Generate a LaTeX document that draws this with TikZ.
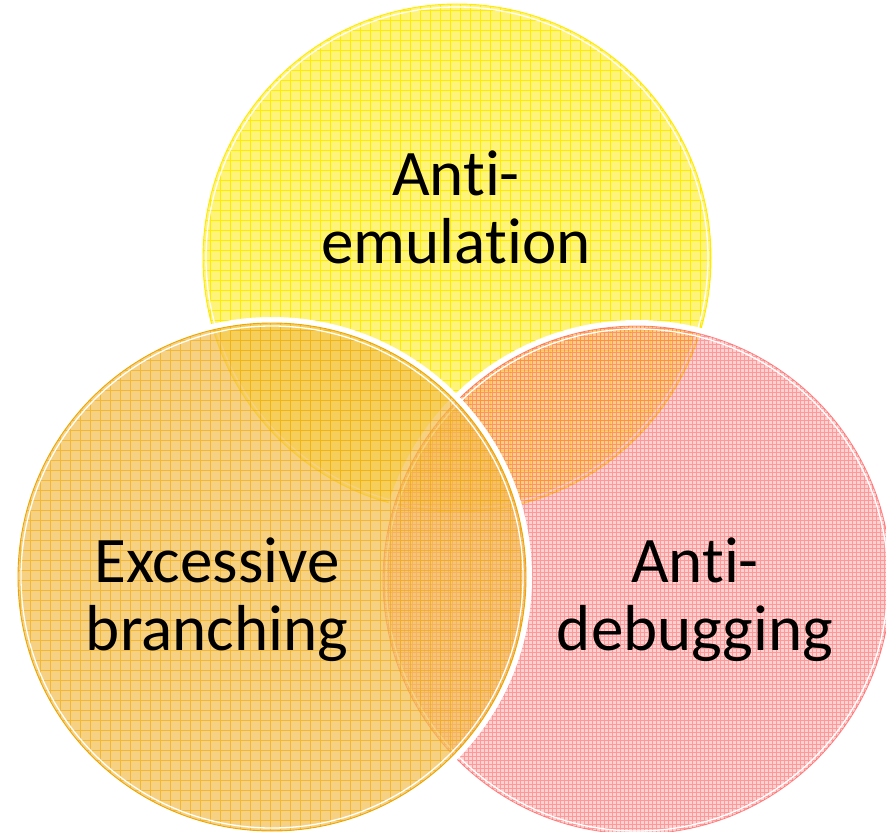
\documentclass[tikz,border=0pt]{standalone}
\usepackage{fontspec}
\setmainfont{Carlito}[Ligatures=NoCommon]
\definecolor{yfill}{HTML}{FFF47A}
\definecolor{ygrid}{HTML}{FFEA00}
\definecolor{ofill}{HTML}{F3BE4E}
\definecolor{ogrid}{HTML}{EFA500}
\definecolor{pfill}{HTML}{FF9A9A}
\definecolor{pgrid}{HTML}{FF3030}
\begin{document}
\begin{tikzpicture}[x=1pt,y=-1pt,
  halo/.style={white, line width=6pt},
  inner rim/.style={white, line width=1.3pt},
  lbl/.style={font=\fontsize{65}{68}\selectfont, align=center, text=black, inner sep=0pt}]
\useasboundingbox (0,0) rectangle (886,832);
\def\R{254}
\coordinate (cy) at (457,258);
\coordinate (co) at (272,577);
\coordinate (cp) at (637,580);

% top circle: anti-emulation
\fill[yfill] (cy) circle (\R);
\begin{scope}
  \clip (cy) circle (\R);
  \draw[ygrid, line width=0.7pt, step=10pt] (190,0) grid (720,520);
\end{scope}
\draw[ygrid, line width=0.9pt] (cy) circle (\R);
\draw[inner rim] (cy) circle (\R-3);

% right circle: anti-debugging
\draw[halo] (cp) circle (\R+3);
\fill[pfill, fill opacity=0.45] (cp) circle (\R);
\begin{scope}
  \clip (cp) circle (\R);
  \draw[pgrid, opacity=0.35, line width=0.6pt, step=4pt] (380,320) grid (900,840);
\end{scope}
\draw[pgrid, opacity=0.5, line width=0.8pt] (cp) circle (\R);
\draw[inner rim] (cp) circle (\R-3);

% left circle: excessive branching
\draw[halo] (co) circle (\R+3);
\fill[ofill, fill opacity=0.7] (co) circle (\R);
\begin{scope}
  \clip (co) circle (\R);
  \draw[ogrid, opacity=0.6, line width=0.7pt, step=10pt] (10,320) grid (530,840);
\end{scope}
\draw[ogrid, line width=0.9pt] (co) circle (\R);
\draw[inner rim] (co) circle (\R-3);

% labels (base anchor sits on the last line)
\node[lbl, anchor=base] (emu) at (456,263) {Anti-\\emulation};
\node[lbl, anchor=base] (branch) at (217,650) {Excessive\\branching};
\node[lbl, anchor=base] (debug) at (695,650) {Anti-\\debugging};
\end{tikzpicture}
\end{document}
